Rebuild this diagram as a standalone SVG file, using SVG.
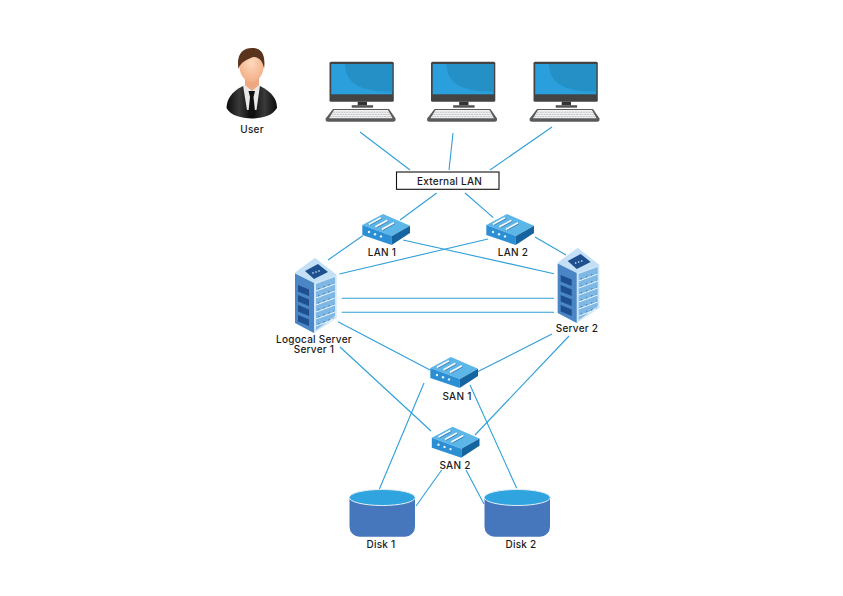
<svg xmlns="http://www.w3.org/2000/svg" width="843" height="596" viewBox="0 0 843 596">
<style>
.t{font-family:"Inter","Liberation Sans",sans-serif;font-size:10px;font-weight:500;letter-spacing:.25px;fill:#1a1a1a;text-anchor:middle}
.c line{stroke:#2f9fd8;stroke-width:1.1}
</style>
<defs>
<radialGradient id="skin" cx="50%" cy="40%" r="65%"><stop offset="0" stop-color="#fdd9bd"/><stop offset="1" stop-color="#f2ac84"/></radialGradient>
<linearGradient id="suit" x1="0" y1="0" x2="1" y2="0"><stop offset="0" stop-color="#0b0b0b"/><stop offset=".25" stop-color="#3a3a3a"/><stop offset=".5" stop-color="#0a0a0a"/><stop offset=".75" stop-color="#3a3a3a"/><stop offset="1" stop-color="#0b0b0b"/></linearGradient>
<g id="pc">
<rect x="329.5" y="61.7" width="64.3" height="40" rx="1.5" fill="#434343"/>
<rect x="331.2" y="64" width="61" height="30.3" fill="#2b9fdc"/>
<path d="M345 64H392.2V91.5C370 92 345 88 345 64Z" fill="#2490c6"/>
<rect x="357.7" y="101.7" width="9.3" height="3.6" fill="#333"/>
<rect x="351.7" y="105.2" width="21.4" height="2.5" fill="#555"/>
<path d="M333 109H389L395.5 118.5Q396 121.7 393 121.7H328Q325 121.7 325.7 118.5Z" fill="#5a5a5a"/>
<path d="M334 110H388L392.5 118.3H329Z" fill="#f1f2f3"/>
<path d="M333 112.2H389M331.5 114.4H390.5M330 116.6H392" stroke="#a9adb2" stroke-width=".7" stroke-dasharray="2 .7"/>
</g>
<g id="sw">
<path d="M362.3 225L383 214L410 225.7L392 236Z" fill="#5cb6e8"/>
<path d="M362.3 225L392 236L391.7 245L362.3 235Z" fill="#2c8fd4"/>
<path d="M392 236L410 225.7V233L391.7 245Z" fill="#14649f"/>
<path d="M369 224.5L381 218M375.5 227L387.5 220.5M382 229.5L394 223" stroke="#f2f8fc" stroke-width="2"/>
<path d="M369 224.5L381 218M375.5 227L387.5 220.5M382 229.5L394 223" stroke="#1f5f9a" stroke-width=".7" transform="translate(.8 .8)"/>
<circle cx="369" cy="232" r="1.2" fill="#e4f3fb"/><circle cx="375" cy="234.2" r="1.2" fill="#e4f3fb"/><circle cx="381" cy="236.4" r="1.2" fill="#e4f3fb"/>
</g>
<g id="srv">
<path d="M295 272.7L315 258L336.7 275V318L314 333L295 323Z" fill="#cfe6f7"/>
<path d="M295 272.7L315 258L336.7 275L314 283Z" fill="#c4e0f6"/>
<path d="M305 271L318 264L328 272L314 279Z" fill="#1e4f8f"/>
<circle cx="313" cy="273" r=".8" fill="#dff"/><circle cx="316" cy="272" r=".8" fill="#dff"/><circle cx="319" cy="271" r=".8" fill="#dff"/>
<path d="M295 273.5L314 283V333L295 323Z" fill="#4a86c5"/>
<path d="M298 285L309 289.5V296L298 291.5ZM298 295L309 299.5V306L298 301.5ZM298 305L309 309.5V316L298 311.5ZM298 315L309 319.5V326L298 321.5Z" fill="#1e4f8f"/>
<path d="M316 284L335 277V316L316 330Z" fill="#7fb8e4"/>
<path d="M316 291L335 284M316 298L335 291M316 305L335 298M316 312L335 305M316 319L335 312M316 326L335 319" stroke="#eaf5fc" stroke-width="1"/>
<path d="M318 289L334 283M318 296L334 290M318 303L334 297M318 310L334 304M318 317L334 311M318 324L334 318" stroke="#2f6fa8" stroke-width=".9" stroke-dasharray="1.5 4"/>
</g>
<g id="db">
<path d="M349.5 497V526.7A10 10 0 0 0 359.5 536.7H405A10 10 0 0 0 415 526.7V497Z" fill="#4676bc"/>
<ellipse cx="382.25" cy="497.5" rx="33" ry="8" fill="#2fa4df" stroke="#e3eef8"/>
</g>
</defs>
<g id="connectors" class="c">
<line x1="360" y1="132" x2="410" y2="170"/>
<line x1="453" y1="133" x2="449" y2="170"/>
<line x1="552" y1="127" x2="490" y2="170"/>
<line x1="436.7" y1="193" x2="400" y2="220"/>
<line x1="465" y1="193" x2="493.3" y2="217.7"/>
<line x1="362.7" y1="235.7" x2="328" y2="260"/>
<line x1="403" y1="240" x2="554" y2="273.7"/>
<line x1="488" y1="239" x2="339.3" y2="274"/>
<line x1="535" y1="237" x2="566" y2="255"/>
<line x1="341.7" y1="298.3" x2="554" y2="298.3"/>
<line x1="341.7" y1="312.3" x2="554" y2="312.3"/>
<line x1="338" y1="321.7" x2="430" y2="370"/>
<line x1="340" y1="347" x2="431" y2="431"/>
<line x1="552" y1="334" x2="477" y2="372"/>
<line x1="569" y1="336" x2="475" y2="435"/>
<line x1="424" y1="383" x2="379.3" y2="489.3"/>
<line x1="470" y1="385" x2="516.7" y2="488.3"/>
<line x1="441.7" y1="470" x2="416" y2="506"/>
<line x1="466" y1="470" x2="484" y2="504"/>
</g>
<g id="user">
<path d="M226.5 108C227 99 231 92 243 86L252 84L260 86C272 92 277 99 277 108C272 116 263 118 252 118.5C241 118 231 116 226.5 108Z" fill="url(#suit)"/>
<path d="M243 85.5L252 84L260 85.5L256.5 110H247Z" fill="#e8e8e8"/>
<path d="M248.5 91H255L253.5 97L255.5 116H248L250 97Z" fill="#111"/>
<path d="M245 72H259V85L252 91L245 85Z" fill="#eea77e"/>
<ellipse cx="251.5" cy="66" rx="12" ry="16" fill="url(#skin)"/>
<path d="M238.5 69C236 54 243 48 252 48C261 48 266 54 264 69C263 61 259 57 253 57C247 60 241 61 238.5 69Z" fill="#5a341c"/>
<text class="t" x="252" y="132.5">User</text>
</g>
<g id="pc1"><use href="#pc"/></g>
<g id="pc2"><use href="#pc" x="101.5"/></g>
<g id="pc3"><use href="#pc" x="204"/></g>
<g id="external-lan">
<rect x="396.5" y="172" width="102.5" height="17.3" fill="#fff" stroke="#111" stroke-width="1.1"/>
<text class="t" x="449.5" y="184.5">External LAN</text>
</g>
<g id="lan1"><use href="#sw"/><text class="t" x="382" y="255.5">LAN 1</text></g>
<g id="lan2"><use href="#sw" x="124"/><text class="t" x="513" y="255.5">LAN 2</text></g>
<g id="server1"><use href="#srv"/><text class="t" x="314" y="342.5">Logocal Server</text><text class="t" x="314" y="353">Server 1</text></g>
<g id="server2"><use href="#srv" x="262.7" y="-10"/><text class="t" x="577" y="331.5">Server 2</text></g>
<g id="san1"><use href="#sw" x="68" y="143"/><text class="t" x="457" y="399.5">SAN 1</text></g>
<g id="san2"><use href="#sw" x="69.5" y="212.7"/><text class="t" x="455" y="468.5">SAN 2</text></g>
<g id="disk1"><use href="#db"/><text class="t" x="381" y="547.5">Disk 1</text></g>
<g id="disk2"><use href="#db" x="135"/><text class="t" x="521" y="547.5">Disk 2</text></g>
</svg>
